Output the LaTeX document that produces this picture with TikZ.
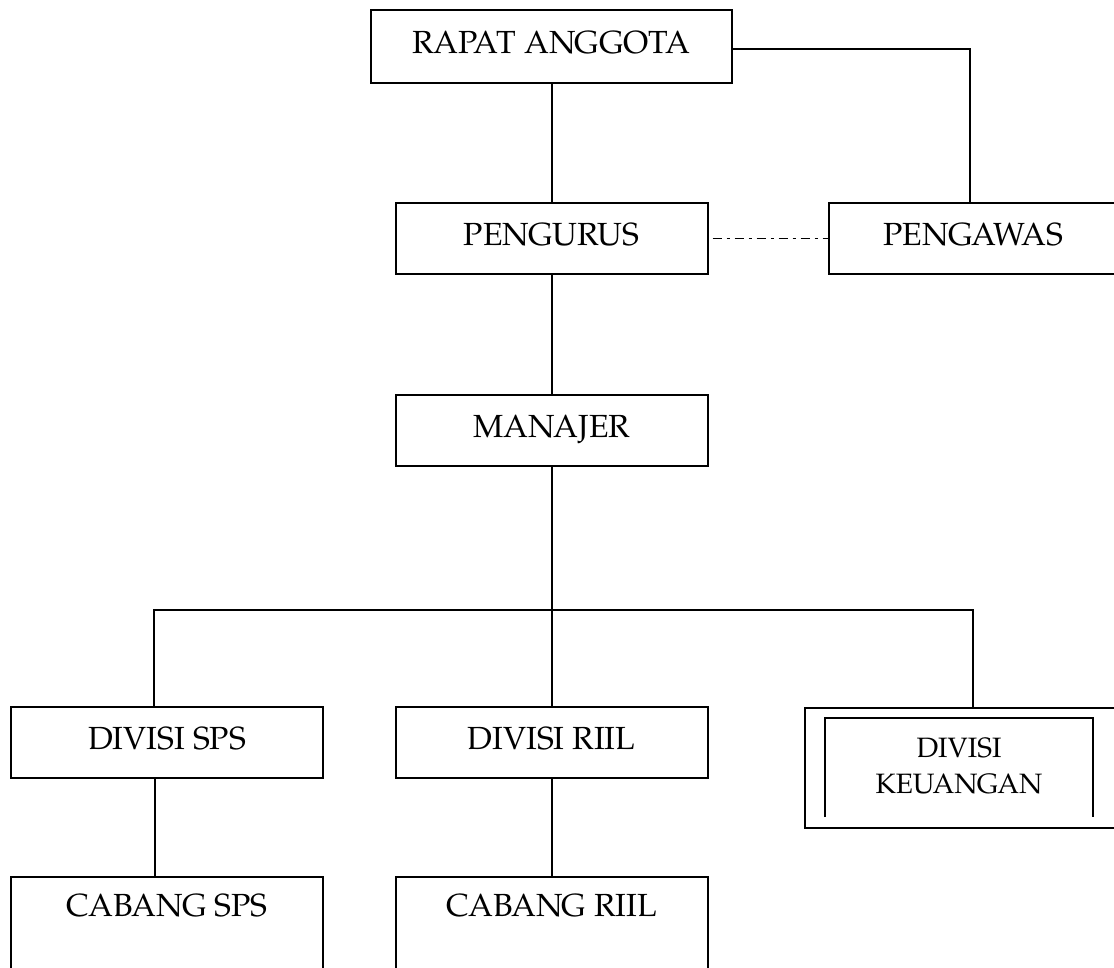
\documentclass[tikz,border=0pt]{standalone}
\usepackage{fontspec}
\setmainfont{TeX Gyre Pagella}
\begin{document}
\begin{tikzpicture}[x=1pt,y=-1pt,
  line width=2pt,
  box/.style={draw, rectangle, inner sep=0pt, font=\fontsize{32}{38}\selectfont,
    text height=21pt, text depth=7pt},
  wide/.style={box, minimum width=312pt, minimum height=71pt},
  lbl/.style={inner sep=0pt, font=\fontsize{32}{38}\selectfont, text height=21pt, text depth=7pt},
  dashdot/.style={line width=1.6pt, dash pattern=on 9pt off 5pt on 3pt off 5pt}]
\clip (0,0) rectangle (1114,968);
% top level
\node[box, minimum width=361pt, minimum height=73pt] (rapat) at (551.5,46.5) {RAPAT ANGGOTA};
\node[wide] (pengurus) at (551.5,238.5) {PENGURUS};
\node[box, minimum width=300pt, minimum height=71pt, anchor=west] (pengawas) at (827.5,238.5) {\hspace*{-10pt}PENGAWAS};
\node[wide] (manajer) at (551.5,430.5) {MANAJER};
% divisions
\node[wide] (dsps) at (167,742.5) {DIVISI SPS};
\node[wide] (driil) at (551.5,742.5) {DIVISI RIIL};
\node[box, minimum width=320pt, minimum height=120pt, anchor=north west] (dkeu) at (803.5,707) {};
\coordinate (kin1) at (825,817);
\coordinate (kin2) at (825,718);
\coordinate (kin3) at (1093,718);
\coordinate (kin4) at (1093,817);
\draw (kin1) -- (kin2) -- (kin3) -- (kin4);
\node[inner sep=0pt, align=center, font=\fontsize{28}{36}\selectfont] (dkeutext) at (959,766) {DIVISI\\KEUANGAN};
% branches
\node[box, minimum width=312pt, minimum height=110pt, anchor=north] (csps) at (167,876) {};
\node[lbl] (cspstext) at (167,909) {CABANG SPS};
\node[box, minimum width=312pt, minimum height=110pt, anchor=north] (criil) at (551.5,876) {};
\node[lbl] (criiltext) at (551.5,909) {CABANG RIIL};
% connectors
\draw (rapat.south) -- (pengurus.north);
\coordinate (rc) at (970,49);
\draw (rapat.east |- rc) -- (rc) -- (rc |- pengawas.north);
\draw[dashdot] ([xshift=4pt]pengurus.east) -- (pengawas.west);
\draw (pengurus.south) -- (manajer.north);
\coordinate (bus) at (551.5,610);
\coordinate (busl) at (154,610);
\coordinate (busr) at (973,610);
\draw (manajer.south) -- (bus);
\draw (busl |- dsps.north) -- (busl) -- (busr) -- (busr |- dkeu.north);
\draw (bus) -- (driil.north);
\draw ([xshift=-12pt]dsps.south) -- ([xshift=-12pt]csps.north);
\draw (driil.south) -- (criil.north);
\end{tikzpicture}
\end{document}
